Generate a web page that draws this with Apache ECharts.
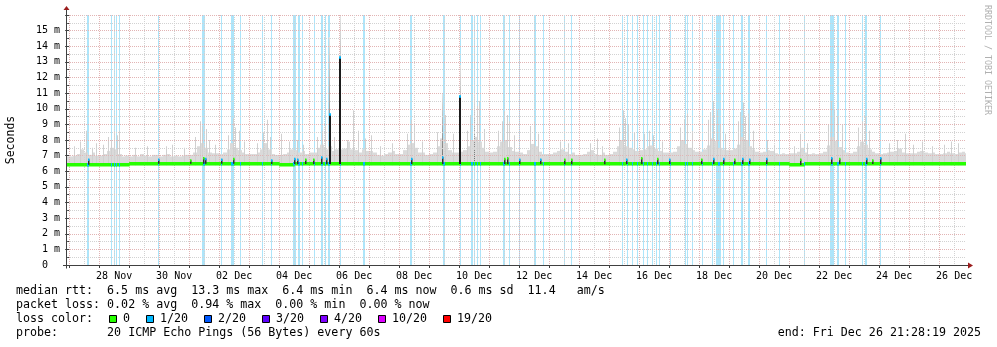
<!DOCTYPE html>
<html>
<head>
<meta charset="utf-8">
<script src="https://cdn.jsdelivr.net/npm/echarts@6/dist/echarts.min.js"></script>
<style>
  html, body { margin: 0; padding: 0; background: #ffffff; }
  #chart { width: 997px; height: 347px; }
</style>
</head>
<body>
<div id="chart"></div>
<script>
// ---- time window (UTC) ----
const windowStart = '11-26 21:28:19';
const windowEnd = '12-26 21:28:19';

// x-axis day labels (placed at noon of each listed day)
const dayLabelDates = ['11-28', '11-30', '12-02', '12-04', '12-06', '12-08', '12-10',
  '12-12', '12-14', '12-16', '12-18', '12-20', '12-22', '12-24', '12-26'];
const dayLabelTexts = ['28 Nov', '30 Nov', '02 Dec', '04 Dec', '06 Dec', '08 Dec', '10 Dec',
  '12 Dec', '14 Dec', '16 Dec', '18 Dec', '20 Dec', '22 Dec', '24 Dec', '26 Dec'];

// packet loss events: [time, duration in minutes] (1/20 loss)
const lossEvents = [
  ['11-27 14:58', 72], ['11-28 10:10', 60], ['11-28 12:14', 48], ['11-28 14:10', 60], ['11-28 16:14', 48],
  ['11-29 23:46', 48], ['12-01 11:36', 144], ['12-02 01:36', 48], ['12-02 10:10', 72], ['12-02 11:46', 48],
  ['12-02 17:02', 48], ['12-03 10:58', 48], ['12-03 18:10', 48], ['12-04 12:14', 168], ['12-04 15:46', 72],
  ['12-04 18:58', 48], ['12-05 04:14', 48], ['12-05 10:24', 72], ['12-05 13:12', 48], ['12-05 16:00', 96],
  ['12-06 01:02', 48], ['12-06 20:00', 96], ['12-08 09:36', 72], ['12-09 11:46', 96], ['12-10 01:12', 48],
  ['12-10 10:24', 72], ['12-10 12:24', 48], ['12-10 14:24', 48], ['12-10 16:48', 48], ['12-11 11:36', 96],
  ['12-11 16:14', 48], ['12-12 00:14', 72], ['12-12 12:48', 96], ['12-12 19:46', 48], ['12-13 12:14', 48],
  ['12-13 17:36', 48], ['12-15 10:48', 72], ['12-15 14:58', 48], ['12-15 18:24', 48], ['12-15 22:58', 48],
  ['12-16 03:26', 48], ['12-16 06:58', 48], ['12-16 10:58', 48], ['12-16 13:36', 48], ['12-16 16:14', 48],
  ['12-17 00:48', 48], ['12-17 13:02', 48], ['12-17 14:58', 48], ['12-17 18:48', 72], ['12-18 02:24', 48],
  ['12-18 10:24', 48], ['12-18 15:36', 240], ['12-18 19:46', 48], ['12-19 03:46', 48], ['12-19 10:14', 72],
  ['12-19 16:00', 120], ['12-20 06:10', 48], ['12-20 16:14', 48], ['12-21 12:14', 48], ['12-22 10:24', 192],
  ['12-22 15:12', 96], ['12-22 21:02', 48], ['12-23 10:24', 48], ['12-23 13:46', 96], ['12-24 01:02', 48]
];

// smoke body (typical upper ping rtt, ms), 3-hour steps starting at smokeStart
const smokeStart = '11-26 21:00';
const smokeTopMs = [
  6.95,
  6.95, 7.0, 7.1, 7.4, 7.2, 7.05, 7.2, 7.0,
  7.0, 7.1, 7.3, 7.5, 7.4, 7.1, 6.95, 7.0,
  6.95, 7.05, 6.95, 7.1, 7.0, 6.95, 7.05, 7.05,
  6.95, 7.05, 7.1, 6.95, 7.0, 6.95, 7.0, 7.05,
  7.05, 7.2, 7.6, 7.8, 7.5, 7.2, 7.15, 7.15,
  7.1, 7.2, 7.4, 7.8, 7.5, 7.35, 7.2, 7.1,
  7.1, 7.1, 7.2, 7.4, 7.8, 7.4, 7.1, 7.05,
  7.05, 7.1, 7.2, 7.4, 7.35, 7.2, 7.3, 7.1,
  7.2, 7.2, 7.5, 7.7, 7.4, 7.6, 7.3, 7.4,
  7.4, 7.45, 7.9, 7.4, 7.35, 7.2, 7.4, 7.3,
  7.3, 7.2, 7.05, 7.0, 7.1, 7.2, 7.3, 7.1,
  7.1, 7.35, 7.7, 7.8, 7.5, 7.2, 7.2, 7.05,
  7.1, 7.2, 7.6, 8.1, 7.8, 7.35, 7.2, 7.2,
  7.25, 7.35, 7.6, 8.0, 8.2, 7.9, 7.5, 7.25,
  7.2, 7.25, 7.6, 7.9, 8.0, 7.55, 7.3, 7.25,
  7.2, 7.1, 7.35, 7.75, 7.6, 7.25, 7.1, 7.1,
  7.1, 7.2, 7.3, 7.4, 7.25, 7.1, 7.2, 7.05,
  7.05, 7.1, 7.25, 7.35, 7.1, 7.05, 7.2, 7.05,
  7.1, 7.25, 7.6, 8.0, 7.6, 7.5, 7.4, 7.3,
  7.35, 7.4, 7.6, 7.65, 7.45, 7.3, 7.2, 7.2,
  7.2, 7.25, 7.6, 8.0, 7.75, 7.5, 7.35, 7.25,
  7.25, 7.4, 7.65, 8.1, 7.95, 7.5, 7.4, 7.35,
  7.35, 7.45, 7.7, 8.2, 8.0, 7.6, 7.4, 7.25,
  7.2, 7.25, 7.35, 7.3, 7.15, 7.1, 7.15, 7.1,
  7.15, 7.15, 7.25, 7.5, 7.2, 7.1, 7.15, 7.1,
  7.15, 7.25, 7.65, 8.2, 7.95, 7.55, 7.35, 7.2,
  7.15, 7.25, 7.6, 7.9, 7.7, 7.4, 7.25, 7.15,
  7.1, 7.15, 7.2, 7.25, 7.3, 7.45, 7.2, 7.15,
  7.15, 7.15, 7.25, 7.3, 7.2, 7.15, 7.2, 7.1,
  7.1, 7.15, 7.25, 7.15, 7.1, 7.2, 7.25, 7.15
];
const smokeFloorMs = 6.38;

// single high ping samples: [time, rtt ms]
const smokeSpikes = [
  ['11-27 04:00', 7.6], ['11-27 09:00', 7.9], ['11-27 13:36', 8.6], ['11-27 18:00', 7.5], ['11-27 21:36', 7.8],
  ['11-28 03:00', 7.7], ['11-28 07:12', 8.2], ['11-28 09:30', 8.0], ['11-28 12:00', 8.4], ['11-28 14:30', 8.3],
  ['11-28 16:00', 8.6], ['11-29 05:00', 7.5], ['11-29 14:00', 7.6], ['11-30 05:36', 7.6], ['11-30 10:00', 7.7],
  ['11-30 20:00', 7.5], ['12-01 05:00', 8.2], ['12-01 08:48', 9.2], ['12-01 10:30', 8.9], ['12-01 13:36', 8.7],
  ['12-01 16:00', 8.0], ['12-01 21:00', 7.7], ['12-02 07:00', 8.3], ['12-02 11:12', 9.4], ['12-02 13:00', 8.8],
  ['12-02 16:00', 8.6], ['12-02 20:00', 7.9], ['12-03 06:00', 7.8], ['12-03 11:00', 8.5], ['12-03 14:24', 9.3],
  ['12-03 17:00', 8.2], ['12-04 01:36', 8.4], ['12-04 08:00', 7.9], ['12-04 14:00', 8.0], ['12-04 19:00', 7.7],
  ['12-05 06:00', 8.2], ['12-05 10:24', 8.6], ['12-05 13:00', 8.9], ['12-05 16:00', 14.6], ['12-05 20:00', 8.2],
  ['12-06 00:48', 16.0], ['12-06 06:00', 8.0], ['12-06 11:12', 9.9], ['12-06 15:00', 8.6], ['12-06 21:00', 8.1],
  ['12-07 01:36', 8.3], ['12-07 09:00', 7.6], ['12-07 18:00', 7.8], ['12-08 06:00', 8.4], ['12-08 09:36', 9.3],
  ['12-08 12:00', 8.9], ['12-08 18:00', 7.9], ['12-09 06:00', 8.5], ['12-09 10:24', 11.0], ['12-09 13:00', 9.6],
  ['12-09 19:00', 8.4], ['12-10 00:48', 12.8], ['12-10 06:00', 8.6], ['12-10 09:00', 9.6], ['12-10 12:00', 11.0],
  ['12-10 14:00', 10.2], ['12-10 16:00', 10.5], ['12-10 20:00', 8.7], ['12-11 07:00', 8.6], ['12-11 10:00', 9.2],
  ['12-11 12:00', 9.8], ['12-11 14:00', 9.6], ['12-11 16:00', 9.2], ['12-11 20:00', 8.3], ['12-12 09:00', 8.9],
  ['12-12 12:00', 9.2], ['12-12 15:00', 8.4], ['12-13 09:00', 7.9], ['12-13 15:00', 7.8], ['12-14 09:00', 7.8],
  ['12-14 14:24', 8.1], ['12-14 18:00', 7.6], ['12-15 08:00', 8.8], ['12-15 11:12', 9.9], ['12-15 13:00', 9.4],
  ['12-15 15:12', 9.0], ['12-15 20:00', 8.5], ['12-16 04:00', 8.4], ['12-16 08:00', 8.6], ['12-16 11:00', 8.3],
  ['12-16 18:00', 7.9], ['12-17 09:00', 8.8], ['12-17 12:00', 9.3], ['12-17 14:24', 9.7], ['12-17 18:00', 8.6],
  ['12-18 07:00', 9.3], ['12-18 09:00', 9.8], ['12-18 11:12', 10.5], ['12-18 14:24', 9.9], ['12-18 17:00', 9.0],
  ['12-18 21:00', 8.4], ['12-19 07:00', 9.2], ['12-19 09:00', 9.8], ['12-19 11:12', 10.4], ['12-19 13:00', 9.5],
  ['12-19 15:12', 9.7], ['12-19 19:00', 8.6], ['12-20 06:00', 8.0], ['12-20 12:00', 7.7], ['12-21 04:00', 7.6],
  ['12-21 08:48', 8.4], ['12-21 14:00', 7.8], ['12-22 07:00', 9.0], ['12-22 09:36', 10.5], ['12-22 12:00', 10.0],
  ['12-22 14:24', 9.5], ['12-22 18:00', 9.0], ['12-23 07:00', 8.8], ['12-23 10:00', 9.2], ['12-23 12:48', 9.5],
  ['12-23 16:00', 8.6], ['12-24 08:00', 7.8], ['12-24 14:00', 8.0], ['12-24 20:48', 8.4], ['12-25 03:00', 7.7],
  ['12-25 10:00', 7.9], ['12-25 18:00', 7.6], ['12-26 04:00', 7.7], ['12-26 09:36', 7.9], ['12-26 15:00', 7.8]
];

// median rtt (ms), 12-hour steps starting at medianStart
const medianStart = '11-26 12:00';
const medianMs = [
  6.42, 6.42, 6.42, 6.42, 6.44,
  6.48, 6.48, 6.48, 6.48, 6.48, 6.48, 6.48, 6.48, 6.48,
  6.46, 6.43,
  6.47, 6.47, 6.47, 6.47, 6.47, 6.47, 6.47, 6.47, 6.47,
  6.47, 6.47, 6.47, 6.47, 6.47, 6.47, 6.47, 6.47, 6.47,
  6.45, 6.45, 6.45,
  6.47, 6.47, 6.47, 6.47, 6.47, 6.47, 6.47, 6.47, 6.47, 6.47, 6.47,
  6.47, 6.40,
  6.46, 6.46, 6.46, 6.46, 6.46, 6.46, 6.46, 6.46, 6.46, 6.46, 6.46
];

// median excursions: [time, median ms, lost pings out of 20]
const medianSpikes = [
  ['11-27 14:58', 6.75, 1], ['11-29 23:12', 6.75, 1], ['12-01 00:48', 6.7, 0], ['12-01 11:12', 6.85, 0],
  ['12-01 12:48', 6.8, 1], ['12-02 01:36', 6.75, 1], ['12-02 11:12', 6.8, 0], ['12-03 17:36', 6.7, 1],
  ['12-04 12:00', 6.8, 1], ['12-04 14:24', 6.75, 1], ['12-04 20:48', 6.75, 0], ['12-05 03:12', 6.75, 0],
  ['12-05 09:36', 6.9, 1], ['12-05 13:36', 6.8, 1], ['12-05 16:24', 9.65, 1], ['12-06 00:48', 13.3, 1],
  ['12-08 09:36', 6.8, 1], ['12-09 10:24', 6.9, 1], ['12-10 01:00', 10.8, 1], ['12-11 12:00', 6.8, 0],
  ['12-11 14:24', 6.85, 0], ['12-12 00:00', 6.75, 1], ['12-12 16:48', 6.75, 1], ['12-13 12:00', 6.75, 0],
  ['12-13 17:36', 6.75, 0], ['12-14 20:00', 6.75, 0], ['12-15 13:36', 6.75, 1], ['12-16 01:36', 6.85, 0],
  ['12-16 14:24', 6.8, 0], ['12-17 00:00', 6.75, 1], ['12-18 01:36', 6.75, 0], ['12-18 11:12', 6.8, 1],
  ['12-18 19:12', 6.8, 1], ['12-19 04:00', 6.75, 0], ['12-19 10:24', 6.8, 1], ['12-19 16:00', 6.75, 1],
  ['12-20 05:36', 6.8, 1], ['12-21 08:48', 6.75, 0], ['12-22 09:36', 6.85, 1], ['12-22 16:00', 6.8, 0],
  ['12-23 13:36', 6.8, 1], ['12-23 18:00', 6.7, 0], ['12-24 00:48', 6.85, 1]
];

// loss colour legend
const lossLabels = ['0', '1/20', '2/20', '3/20', '4/20', '10/20', '19/20'];
const lossColors = ['#26ff00', '#00b8ff', '#0059ff', '#5e00ff', '#7e00ff', '#dd00ff', '#ff0000'];

// summary statistics
const medianStats = ['6.5', '13.3', '6.4', '6.4', '0.6', '11.4'];
const lossStats = ['0.02', '0.94', '0.00', '0.00'];
const probeText = '20 ICMP Echo Pings (56 Bytes) every 60s';
const endText = 'Fri Dec 26 21:28:19 2025';

// ---------------------------------------------------------------
const T0 = Date.UTC(2025, 10, 27);
function hrs(s) {
  const m = /^(\d+)-(\d+) (\d+):(\d+)(?::(\d+))?$/.exec(s);
  return (Date.UTC(2025, +m[1] - 1, +m[2], +m[3], +m[4], +(m[5] || 0)) - T0) / 3600000;
}
const xMin = hrs(windowStart);
const xMax = hrs(windowEnd);
const medianT0 = hrs(medianStart);
function medianAt(t) {
  const i = Math.min(medianMs.length - 1, Math.max(0, Math.floor((t - medianT0) / 12)));
  return medianMs[i];
}

const MONO = 'DejaVu Sans Mono';
const STRIPE = '#ade5fa';
const SMOKE = '#dadada';
const MGRID = '#e2b4b4';
const GRID = '#d2d2d2';
const PLOT = { left: 66, top: 15, width: 900, height: 250 };

const gridTimes = [];
for (let h = Math.ceil(xMin / 12) * 12; h <= xMax; h += 12) gridTimes.push([h, h % 24 === 0 ? 1 : 0]);
const labelTimes = dayLabelDates.map(d => hrs(d + ' 12:00'));
const tickTimes = gridTimes.filter(g => g[1] === 1).map(g => g[0]);

function px(v) { return Math.round(v - 0.5) + 0.5; }

const chart = echarts.init(document.getElementById('chart'), null, { renderer: 'canvas' });

const option = {
  animation: false,
  backgroundColor: '#ffffff',
  grid: { left: PLOT.left, top: PLOT.top, width: PLOT.width, height: PLOT.height, containLabel: false },
  xAxis: {
    type: 'value', min: xMin, max: xMax,
    axisLine: { show: false },
    splitLine: { show: false },
    axisTick: { show: true, customValues: tickTimes, length: 3, inside: false, lineStyle: { color: '#404040' } },
    axisLabel: {
      customValues: labelTimes,
      formatter: v => dayLabelTexts[labelTimes.findIndex(t => Math.abs(t - v) < 1e-6)] || '',
      fontFamily: MONO, fontSize: 10, color: '#000', margin: 6
    }
  },
  yAxis: {
    type: 'value', min: 0, max: 16, interval: 1, z: 3,
    axisLine: { show: false },
    axisTick: { show: true, length: 4, lineStyle: { color: '#404040' } },
    minorTick: { show: true, splitNumber: 2, length: 2, lineStyle: { color: '#404040' } },
    splitLine: { show: true, lineStyle: { color: MGRID, type: [1, 1], width: 1 } },
    minorSplitLine: { show: true, lineStyle: { color: GRID, type: [1, 1], width: 1 } },
    axisLabel: {
      formatter: v => (v === 0 ? '0  ' : v >= 16 ? '' : v + ' m'),
      fontFamily: MONO, fontSize: 10, color: '#000', margin: 6
    }
  },
  series: [
    {
      // loss background stripes
      type: 'custom', z: 1, clip: true,
      data: lossEvents.map(e => [hrs(e[0]), 16, e[1]]),
      renderItem: (params, api) => {
        const t = api.value(0), w = api.value(2) / 60;
        const a = api.coord([t - w / 2, 16]);
        const b = api.coord([t + w / 2, 0]);
        const x0 = Math.round(a[0]);
        return { type: 'rect', shape: { x: x0, y: a[1], width: Math.max(1, Math.round(b[0]) - x0), height: b[1] - a[1] },
          style: { fill: STRIPE } };
      }
    },
    {
      // smoke body
      type: 'custom', z: 2, clip: true,
      data: smokeTopMs.map((v, i) => [hrs(smokeStart) + 3 * i, v]),
      renderItem: (params, api) => {
        const t = api.value(0);
        const a = api.coord([t, api.value(1)]);
        const b = api.coord([t + 3, smokeFloorMs]);
        const x0 = Math.round(a[0]);
        return { type: 'rect', shape: { x: x0, y: a[1], width: Math.round(b[0]) - x0, height: b[1] - a[1] },
          style: { fill: SMOKE } };
      }
    },
    {
      // single high samples in the smoke
      type: 'custom', z: 2, clip: true,
      data: smokeSpikes.map(s => [hrs(s[0]), s[1]]),
      renderItem: (params, api) => {
        const v = api.value(1);
        const a = api.coord([api.value(0), v]);
        const b = api.coord([api.value(0), smokeFloorMs]);
        const fill = v > 10.5
          ? new echarts.graphic.LinearGradient(0, 0, 0, 1, [{ offset: 0, color: '#e4e4e4' }, { offset: 1, color: '#6a6a6a' }])
          : '#d0d0d0';
        return { type: 'rect', shape: { x: Math.round(a[0]), y: a[1], width: 1, height: b[1] - a[1] },
          style: { fill: fill } };
      }
    },
    {
      // vertical grid (midnight major, noon minor)
      type: 'custom', z: 3, clip: true, silent: true,
      data: gridTimes.map(g => [g[0], 16, g[1]]),
      renderItem: (params, api) => {
        const a = api.coord([api.value(0), 16]);
        const b = api.coord([api.value(0), 0]);
        const x = px(a[0]);
        return { type: 'line', shape: { x1: x, y1: a[1], x2: x, y2: b[1] },
          style: { stroke: api.value(2) ? MGRID : GRID, lineWidth: 1, lineDash: [1, 1] } };
      }
    },
    {
      // median rtt
      type: 'custom', z: 5, clip: true,
      data: medianMs.map((v, i) => [medianT0 + 12 * i, v]),
      renderItem: (params, api) => {
        const t = api.value(0);
        const a = api.coord([t, api.value(1)]);
        const b = api.coord([t + 12, api.value(1)]);
        return { type: 'rect', shape: { x: a[0], y: Math.round(a[1] - 1.75), width: b[0] - a[0] + 0.5, height: 3.5 },
          style: { fill: lossColors[0] } };
      }
    },
    {
      // median coloured by loss during loss events
      type: 'custom', z: 6, clip: true,
      data: lossEvents.map(e => [hrs(e[0]), medianAt(hrs(e[0])), e[1]]),
      renderItem: (params, api) => {
        const t = api.value(0), w = Math.min(api.value(2), 96) / 60;
        const a = api.coord([t - w / 2, api.value(1)]);
        const b = api.coord([t + w / 2, api.value(1)]);
        const x0 = Math.round(a[0]);
        return { type: 'rect', shape: { x: x0, y: Math.round(a[1] - 1.75), width: Math.max(1, Math.round(b[0]) - x0), height: 3.5 },
          style: { fill: lossColors[1] } };
      }
    },
    {
      // median excursions
      type: 'custom', z: 6, clip: true,
      data: medianSpikes.map(s => [hrs(s[0]), s[1], s[2]]),
      renderItem: (params, api) => {
        const t = api.value(0), v = api.value(1);
        const top = api.coord([t, v]);
        const base = api.coord([t, medianAt(t)]);
        const big = v > 8;
        const x = Math.round(top[0]) - (big ? 1 : 0);
        const w = big ? 2 : 1.5;
        return {
          type: 'group',
          children: [
            { type: 'rect', shape: { x: x, y: top[1], width: w, height: base[1] - top[1] },
              style: { fill: big ? '#1c1c1c' : '#2e2e2e' } },
            { type: 'rect', shape: { x: x, y: top[1] - 1, width: w, height: 2.5 },
              style: { fill: lossColors[api.value(2)] } }
          ]
        };
      }
    }
  ],
  graphic: []
};

// axes drawn with arrows in rrdtool style
const yAxisX = PLOT.left + 0.5;
const xAxisY = PLOT.top + PLOT.height + 0.5;
const g = option.graphic;
g.push({ type: 'line', z: 20, shape: { x1: yAxisX, y1: xAxisY + 3, x2: yAxisX, y2: PLOT.top - 5 }, style: { stroke: '#404040', lineWidth: 1 } });
g.push({ type: 'line', z: 20, shape: { x1: PLOT.left - 3, y1: xAxisY, x2: PLOT.left + PLOT.width + 3, y2: xAxisY }, style: { stroke: '#404040', lineWidth: 1 } });
g.push({ type: 'polygon', z: 21, shape: { points: [[yAxisX - 3, PLOT.top - 5], [yAxisX + 3, PLOT.top - 5], [yAxisX, PLOT.top - 9]] }, style: { fill: '#9b1c1c' } });
g.push({ type: 'polygon', z: 21, shape: { points: [[PLOT.left + PLOT.width + 2, xAxisY - 3], [PLOT.left + PLOT.width + 2, xAxisY + 3], [PLOT.left + PLOT.width + 7, xAxisY]] }, style: { fill: '#9b1c1c' } });

// axis titles
g.push({ type: 'text', z: 20, x: 11, y: 140, rotation: Math.PI / 2,
  style: { text: 'Seconds', font: '11.5px "' + MONO + '"', fill: '#000', textAlign: 'center', textVerticalAlign: 'middle' } });
g.push({ type: 'text', z: 20, x: 987, y: 5, rotation: -Math.PI / 2,
  style: { text: 'RRDTOOL / TOBI OETIKER', font: '8.3px "' + MONO + '"', fill: '#b0b0b0', textAlign: 'left', textVerticalAlign: 'middle' } });

// legend block
const LF = '11.65px "' + MONO + '"';
const CW = 7;
const LX = 16;
function legendText(x, y, text, align) {
  g.push({ type: 'text', z: 20, x: x, y: y, style: { text: text, font: LF, fill: '#000', textAlign: align || 'left', textVerticalAlign: 'middle' } });
}
legendText(LX, 291, 'median rtt:  ' + medianStats[0] + ' ms avg  ' + medianStats[1] + ' ms max  ' + medianStats[2] +
  ' ms min  ' + medianStats[3] + ' ms now  ' + medianStats[4] + ' ms sd  ' + medianStats[5] + '   am/s');
legendText(LX, 305, 'packet loss: ' + lossStats[0] + ' % avg  ' + lossStats[1] + ' % max  ' + lossStats[2] +
  ' % min  ' + lossStats[3] + ' % now');
legendText(LX, 319, 'loss color:');
let bx = LX + 13 * CW + 2;
lossLabels.forEach((lbl, i) => {
  g.push({ type: 'rect', z: 20, shape: { x: bx + 0.5, y: 315.5, width: 7, height: 7 }, style: { fill: lossColors[i], stroke: '#000', lineWidth: 1 } });
  legendText(bx + 14, 319, lbl);
  bx += 14 + lbl.length * CW + 16;
});
legendText(LX, 333, 'probe:       ' + probeText);
legendText(981, 333, 'end: ' + endText, 'right');

chart.setOption(option);
</script>
</body>
</html>
